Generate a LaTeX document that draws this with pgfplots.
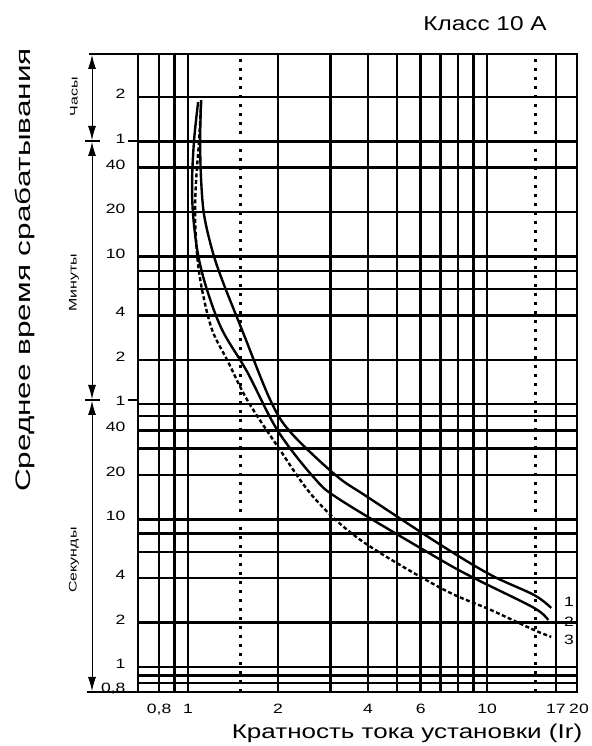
\documentclass[border=0pt]{standalone}
\usepackage{fontspec}
\setmainfont{Liberation Sans}
\usepackage{graphicx}
\usepackage{pgfplots}
\pgfplotsset{compat=1.18}
\usetikzlibrary{arrows.meta}
\newcommand{\sx}[1]{\scalebox{1.3}[1]{#1}}
\begin{document}
\begin{tikzpicture}[x=1pt,y=1pt]
\useasboundingbox (0,0) rectangle (591,746);
\begin{axis}[
  at={(138pt,54pt)}, anchor=south west,
  scale only axis, width=439pt, height=638pt,
  xmode=log, ymode=log,
  xmin=0.68, xmax=20, ymin=0.678, ymax=14060,
  axis line style={line width=2.5pt},
  /pgf/number format/assume math mode=true,
  xtick={0.8,0.9,1,2,3,4,5,6,7,8,9,10,17,20},
  xticklabels={\sx{0,8},,\sx{1},\sx{2},,\sx{4},,\sx{6},,,,\sx{10},\sx{17}\hspace{7pt},\hspace{4pt}\sx{20}},
  ytick={0.678,0.78,0.88,1,2,4,6,8,10,20,30,40,50,60,120,240,360,480,600,1200,2400,3600,7200},
  yticklabels={\sx{0,8},,,\sx{1},\sx{2},\sx{4},,,\sx{10},\sx{20},,\sx{40},,\sx{1}\hspace{9pt},\sx{2},\sx{4},,,\sx{10},\sx{20},\sx{40},\sx{1}\hspace{9pt},\sx{2}},
  major tick length=0pt, minor tick length=0pt,
  grid=major,
  major grid style={line width=2.5pt, black},
  tick label style={font=\fontsize{13.5}{15}\selectfont},
  yticklabel style={anchor=east, xshift=-9pt, yshift=3pt},
  xticklabel style={anchor=north, yshift=-9pt},
  clip=false,
]
\addplot[black, line width=2.5pt, dash pattern=on 3pt off 6pt] coordinates {(1.5,0.678) (1.5,14060)};
\addplot[black, line width=2.5pt, dash pattern=on 3pt off 6pt] coordinates {(14.5,0.678) (14.5,14060)};
% curve 1
\addplot[black, line width=2.4pt, smooth, tension=0.55] coordinates {
(1.1056,6860) (1.0971,3678) (1.1056,1972) (1.1315,1143) (1.2037,663) (1.3005,415) (1.5297,181.9) (1.8840,64.0) (2.1991,38.9) (3.1136,19.9) (3.9878,14.13) (7.0097,6.69) (10.314,4.19) (14.38,3.07) (16.40,2.51)};
% curve 2
\addplot[black, line width=2.4pt, smooth, tension=0.55] coordinates {
(1.0803,6648) (1.0474,3678) (1.0314,1972) (1.0394,1143) (1.0803,613) (1.1580,355) (1.3005,190.6) (1.5776,99.1) (1.9895,40.1) (2.6272,19.3) (3.2363,13.49) (7.0097,5.30) (9.3284,3.88) (14.38,2.51) (16.02,2.08)};
% curve 3
\addplot[black, line width=2.4pt, dash pattern=on 4pt off 2.5pt, smooth, tension=0.55] coordinates {
(1.1056,6648) (1.0887,3678) (1.0638,1972) (1.0556,1143) (1.0720,613) (1.1142,355) (1.2037,190.6) (1.3622,115.8) (1.5776,64.0) (1.9895,31.3) (2.6272,14.13) (3.7775,7.23) (7.0097,3.42) (10.314,2.43) (14.38,1.78) (16.40,1.60)};
\node[font=\fontsize{13.5}{15}\selectfont] at (axis cs:18.8,2.75) {\sx{1}};
\node[font=\fontsize{13.5}{15}\selectfont] at (axis cs:18.8,2.02) {\sx{2}};
\node[font=\fontsize{13.5}{15}\selectfont] at (axis cs:18.8,1.52) {\sx{3}};
\end{axis}
% left bracket annotations
\draw[line width=1.5pt] (89,692) -- (138,692);
\draw[line width=1.5pt] (87,54) -- (138,54);
\draw[line width=1.2pt] (85,605) -- (100,605);
\draw[line width=1.2pt] (128,605) -- (138,605);
\draw[line width=1.2pt] (85,346) -- (100,346);
\draw[line width=1.2pt] (128,346) -- (138,346);
\draw[line width=0.9pt, {Latex[length=14pt,width=8pt]}-{Latex[length=14pt,width=8pt]}] (92,691) -- (92,606);
\draw[line width=0.9pt, {Latex[length=14pt,width=8pt]}-{Latex[length=14pt,width=8pt]}] (92,604) -- (92,347);
\draw[line width=0.9pt, {Latex[length=14pt,width=8pt]}-{Latex[length=14pt,width=8pt]}] (92,345) -- (92,55);
\node[rotate=90, font=\fontsize{11}{13}\selectfont] at (74,649) {\scalebox{1.45}[1]{Часы}};
\node[rotate=90, font=\fontsize{11}{13}\selectfont] at (74,463) {\scalebox{1.45}[1]{Минуты}};
\node[rotate=90, font=\fontsize{11}{13}\selectfont] at (74,186) {\scalebox{1.45}[1]{Секунды}};
\node[rotate=90, font=\fontsize{21}{24}\selectfont] at (25,476) {\scalebox{1.5}[1]{Среднее время срабатывания}};
\node[font=\fontsize{20}{23}\selectfont] at (407,13) {\scalebox{1.3}[1]{Кратность тока установки (Ir)}};
\node[font=\fontsize{20}{23}\selectfont] at (485,722) {\scalebox{1.22}[1]{Класс 10 А}};
\end{tikzpicture}
\end{document}
